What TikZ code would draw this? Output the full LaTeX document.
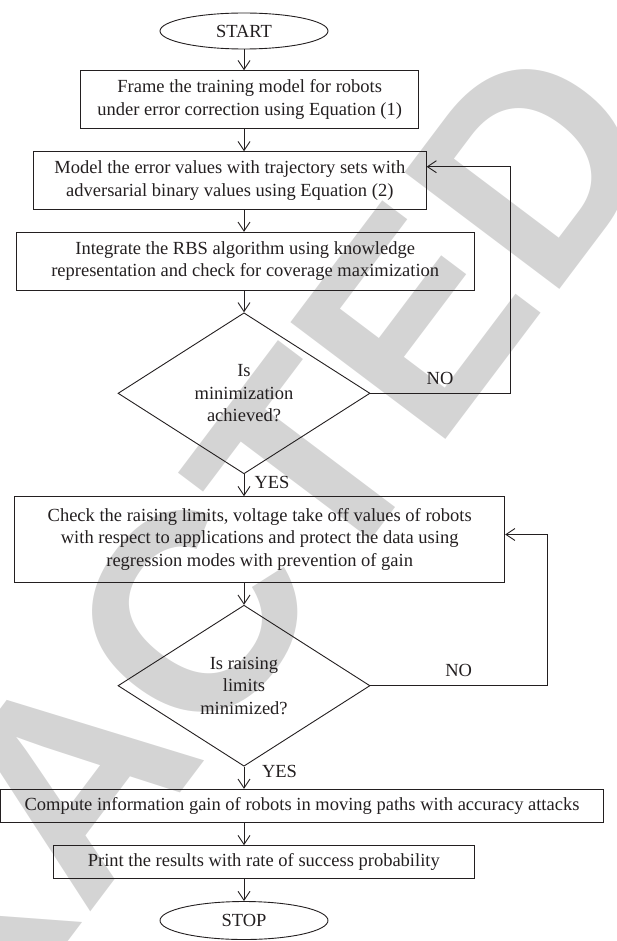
\documentclass[tikz,border=0pt]{standalone}
\usepackage{fontspec}
\setmainfont{Liberation Serif}
\newfontfamily\wmfont{Liberation Sans}
\usetikzlibrary{shapes.geometric,arrows.meta,calc}
\definecolor{ink}{RGB}{35,31,32}
\definecolor{wm}{RGB}{212,212,212}
\begin{document}
\begin{tikzpicture}[x=1pt,y=-1pt,
  every node/.style={text=ink, font=\fontsize{18.5}{22.5}\selectfont},
  proc/.style={draw=ink, line width=0.9pt, rectangle, inner sep=0pt, align=center},
  term/.style={draw=ink, line width=0.9pt, ellipse, inner sep=0pt, minimum width=168pt},
  dec/.style={draw=ink, line width=0.9pt, diamond, inner sep=0pt, align=center, minimum width=252pt, minimum height=161pt},
  arr/.style={draw=ink, line width=0.9pt, -{Straight Barb[length=9pt,width=12pt]}},
  lbl/.style={inner sep=0pt}
]
\useasboundingbox (0,0) rectangle (617,941);
\begin{scope}
\clip (0,0) rectangle (617,941);
\node[rotate=53, text=wm, font=\wmfont\bfseries\fontsize{282}{300}\selectfont, inner sep=0pt] (wmark) at (70,778) {RETRACTED};
\end{scope}

\node[term, minimum height=36pt] (start) at (244,31) {START};
\node[proc, minimum width=338pt, minimum height=58pt] (b1) at (249.7,99.7) {Frame the training model for robots\\under error correction using Equation (1)};
\node[proc, minimum width=392.7pt, minimum height=57.8pt] (b2) at (229.8,180.6) {Model the error values with trajectory sets with\\adversarial binary values using Equation (2)};
\node[proc, minimum width=457.5pt, minimum height=58pt] (b3) at (245.2,261.3) {Integrate the RBS algorithm using knowledge\\representation and check for coverage maximization};
\node[dec] (d1) at (244,393.3) {Is\\minimization\\achieved?};
\node[proc, minimum width=490pt, minimum height=85.3pt] (b4) at (259.7,539.3) {Check the raising limits, voltage take off values of robots\\with respect to applications and protect the data using\\regression modes with prevention of gain};
\node[dec] (d2) at (244,685.7) {Is raising\\limits\\minimized?};
\node[proc, minimum width=603pt, minimum height=33.4pt] (b5) at (302,806) {Compute information gain of robots in moving paths with accuracy attacks};
\node[proc, minimum width=420.5pt, minimum height=32.7pt] (b6) at (263.8,862) {Print the results with rate of success probability};
\node[term, minimum height=38pt] (stop) at (244,920.5) {STOP};

\draw[arr] (start.south) -- (start.south |- b1.north);
\draw[arr] (b1.south -| d1.north) -- (b2.north -| d1.north);
\draw[arr] (b2.south -| d1.north) -- (b3.north -| d1.north);
\draw[arr] (b3.south -| d1.north) -- (d1.north);
\draw[arr] (d1.south) -- (b4.north -| d1.south);
\draw[arr] (b4.south -| d2.north) -- (d2.north);
\draw[arr] (d2.south) -- (b5.north -| d2.south);
\draw[arr] (b5.south -| d2.north) -- (b6.north -| d2.north);
\draw[arr] (b6.south -| d2.north) -- (stop.north);

\coordinate (fb1) at (510.7,166.7);
\coordinate (fb2) at (547.3,534.5);
\draw[arr] (d1.east) -| (fb1) -- (fb1 -| b2.east);
\draw[arr] (d2.east) -| (fb2) -- (fb2 -| b4.east);

\node[lbl] (no1) at (440,378) {NO};
\node[lbl] (no2) at (458.7,670) {NO};
\node[lbl] (yes1) at (272,482) {YES};
\node[lbl] (yes2) at (279.5,771.7) {YES};
\end{tikzpicture}
\end{document}
